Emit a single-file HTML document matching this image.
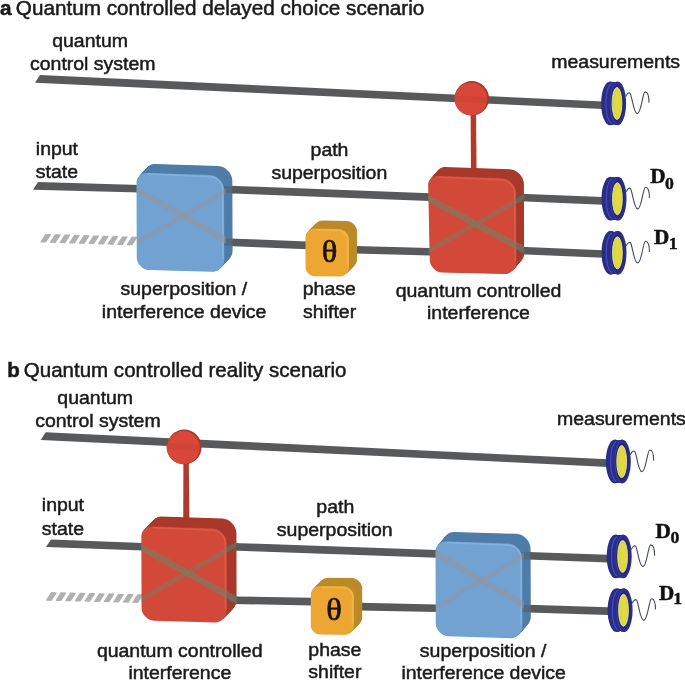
<!DOCTYPE html>
<html><head><meta charset="utf-8"><style>
html,body{margin:0;padding:0;background:#fff;}
body{width:685px;height:681px;overflow:hidden;}
svg{display:block;filter:blur(0.35px);}
</style></head><body>
<svg width="685" height="681" viewBox="0 0 685 681">
<text transform="translate(0 14.8) scale(1.041 1)" x="0" y="0" font-family="&quot;Liberation Sans&quot;, sans-serif" font-size="19.9" text-anchor="start" font-weight="normal" fill="#1a1a1a" stroke="#1a1a1a" stroke-width="0.5"><tspan font-weight="bold">a</tspan><tspan dx="-1.4"> Quantum controlled delayed choice scenario</tspan></text>
<text transform="translate(90.1 46.8) scale(1.015 1)" x="0" y="0" font-family="&quot;Liberation Sans&quot;, sans-serif" font-size="19.2" text-anchor="middle" font-weight="normal" fill="#1a1a1a" stroke="#1a1a1a" stroke-width="0.5">quantum</text>
<text transform="translate(92.75 69.8) scale(1.015 1)" x="0" y="0" font-family="&quot;Liberation Sans&quot;, sans-serif" font-size="19.2" text-anchor="middle" font-weight="normal" fill="#1a1a1a" stroke="#1a1a1a" stroke-width="0.5">control system</text>
<text transform="translate(615.65 67.7) scale(1.015 1)" x="0" y="0" font-family="&quot;Liberation Sans&quot;, sans-serif" font-size="19.2" text-anchor="middle" font-weight="normal" fill="#1a1a1a" stroke="#1a1a1a" stroke-width="0.5">measurements</text>
<text transform="translate(35.8 155) scale(1.015 1)" x="0" y="0" font-family="&quot;Liberation Sans&quot;, sans-serif" font-size="19.2" text-anchor="start" font-weight="normal" fill="#1a1a1a" stroke="#1a1a1a" stroke-width="0.5">input</text>
<text transform="translate(35.8 178.3) scale(1.015 1)" x="0" y="0" font-family="&quot;Liberation Sans&quot;, sans-serif" font-size="19.2" text-anchor="start" font-weight="normal" fill="#1a1a1a" stroke="#1a1a1a" stroke-width="0.5">state</text>
<text transform="translate(329.5 155.5) scale(1.015 1)" x="0" y="0" font-family="&quot;Liberation Sans&quot;, sans-serif" font-size="19.2" text-anchor="middle" font-weight="normal" fill="#1a1a1a" stroke="#1a1a1a" stroke-width="0.5">path</text>
<text transform="translate(329.3 178.6) scale(1.015 1)" x="0" y="0" font-family="&quot;Liberation Sans&quot;, sans-serif" font-size="19.2" text-anchor="middle" font-weight="normal" fill="#1a1a1a" stroke="#1a1a1a" stroke-width="0.5">superposition</text>
<text transform="translate(183.85 295.3) scale(1.015 1)" x="0" y="0" font-family="&quot;Liberation Sans&quot;, sans-serif" font-size="19.2" text-anchor="middle" font-weight="normal" fill="#1a1a1a" stroke="#1a1a1a" stroke-width="0.5">superposition /</text>
<text transform="translate(184.1 318.3) scale(1.015 1)" x="0" y="0" font-family="&quot;Liberation Sans&quot;, sans-serif" font-size="19.2" text-anchor="middle" font-weight="normal" fill="#1a1a1a" stroke="#1a1a1a" stroke-width="0.5">interference device</text>
<text transform="translate(329.3 295.3) scale(1.015 1)" x="0" y="0" font-family="&quot;Liberation Sans&quot;, sans-serif" font-size="19.2" text-anchor="middle" font-weight="normal" fill="#1a1a1a" stroke="#1a1a1a" stroke-width="0.5">phase</text>
<text transform="translate(329.6 318) scale(1.015 1)" x="0" y="0" font-family="&quot;Liberation Sans&quot;, sans-serif" font-size="19.2" text-anchor="middle" font-weight="normal" fill="#1a1a1a" stroke="#1a1a1a" stroke-width="0.5">shifter</text>
<text transform="translate(478.5 296.5) scale(1.015 1)" x="0" y="0" font-family="&quot;Liberation Sans&quot;, sans-serif" font-size="19.2" text-anchor="middle" font-weight="normal" fill="#1a1a1a" stroke="#1a1a1a" stroke-width="0.5">quantum controlled</text>
<text transform="translate(478.4 318.5) scale(1.015 1)" x="0" y="0" font-family="&quot;Liberation Sans&quot;, sans-serif" font-size="19.2" text-anchor="middle" font-weight="normal" fill="#1a1a1a" stroke="#1a1a1a" stroke-width="0.5">interference</text>
<polygon points="40.0,75.1 603.0,101.5 603.0,109.1 35.0,82.7" fill="#58595b"/>
<polygon points="38.0,182.1 140.0,185.0 140.0,192.6 33.0,189.7" fill="#58595b"/>
<polygon points="228.0,185.7 430.0,193.3 430.0,200.9 228.0,193.3" fill="#58595b"/>
<polygon points="520.0,193.7 603.0,197.1 603.0,204.7 520.0,201.3" fill="#58595b"/>
<polygon points="45.8,234.5 50.4,234.6 45.6,242.0 41.0,241.9" fill="#b0b0b0" stroke="#b0b0b0" stroke-width="1.2" stroke-linejoin="round"/>
<polygon points="55.4,234.8 60.0,234.9 55.2,242.3 50.6,242.2" fill="#b0b0b0" stroke="#b0b0b0" stroke-width="1.2" stroke-linejoin="round"/>
<polygon points="65.0,235.1 69.6,235.2 64.8,242.6 60.2,242.5" fill="#b0b0b0" stroke="#b0b0b0" stroke-width="1.2" stroke-linejoin="round"/>
<polygon points="74.6,235.4 79.2,235.5 74.4,242.9 69.8,242.8" fill="#b0b0b0" stroke="#b0b0b0" stroke-width="1.2" stroke-linejoin="round"/>
<polygon points="84.2,235.7 88.8,235.8 84.0,243.2 79.4,243.1" fill="#b0b0b0" stroke="#b0b0b0" stroke-width="1.2" stroke-linejoin="round"/>
<polygon points="93.8,236.0 98.4,236.1 93.6,243.5 89.0,243.4" fill="#b0b0b0" stroke="#b0b0b0" stroke-width="1.2" stroke-linejoin="round"/>
<polygon points="103.4,236.3 108.0,236.4 103.2,243.8 98.6,243.7" fill="#b0b0b0" stroke="#b0b0b0" stroke-width="1.2" stroke-linejoin="round"/>
<polygon points="113.0,236.6 117.6,236.7 112.8,244.1 108.2,244.0" fill="#b0b0b0" stroke="#b0b0b0" stroke-width="1.2" stroke-linejoin="round"/>
<polygon points="122.6,236.9 127.2,237.0 122.4,244.4 117.8,244.3" fill="#b0b0b0" stroke="#b0b0b0" stroke-width="1.2" stroke-linejoin="round"/>
<polygon points="132.2,237.2 136.8,237.3 132.0,244.7 127.4,244.6" fill="#b0b0b0" stroke="#b0b0b0" stroke-width="1.2" stroke-linejoin="round"/>
<polygon points="228.0,238.4 307.0,241.6 307.0,249.2 228.0,246.0" fill="#58595b"/>
<polygon points="355.0,246.0 430.0,248.0 430.0,255.6 355.0,253.6" fill="#58595b"/>
<polygon points="520.0,246.7 603.0,250.2 603.0,257.8 520.0,254.3" fill="#58595b"/>
<path d="M154.79,163.92 L218.31,165.95 C225.30,166.18 232.32,173.40 232.34,180.40 L232.56,251.00 C232.58,257.00 226.60,262.85 220.60,262.70 L157.10,261.10 C151.10,260.95 145.08,254.80 145.06,248.80 L144.83,173.60 C144.82,168.60 149.80,163.76 154.79,163.92 Z" fill="#4f7daa"/>
<path d="M154.28,164.48 L217.79,166.51 C224.78,166.74 231.80,173.96 231.82,180.96 L232.04,251.56 C232.06,257.56 226.08,263.41 220.09,263.26 L156.58,261.66 C150.58,261.51 144.56,255.36 144.54,249.36 L144.31,174.16 C144.30,169.16 149.28,164.32 154.28,164.48 Z" fill="#4f7daa"/>
<path d="M153.76,165.04 L217.27,167.08 C224.27,167.30 231.28,174.52 231.31,181.52 L231.53,252.13 C231.54,258.13 225.56,263.97 219.57,263.82 L156.06,262.23 C150.06,262.08 144.04,255.93 144.03,249.93 L143.79,174.72 C143.78,169.72 148.76,164.88 153.76,165.04 Z" fill="#4f7daa"/>
<path d="M153.24,165.61 L216.75,167.64 C223.75,167.86 230.77,175.09 230.79,182.09 L231.01,252.69 C231.03,258.69 225.05,264.54 219.05,264.39 L155.54,262.79 C149.54,262.64 143.53,256.49 143.51,250.49 L143.27,175.29 C143.26,170.29 148.24,165.45 153.24,165.61 Z" fill="#4f7daa"/>
<path d="M152.72,166.17 L216.23,168.20 C223.23,168.43 230.25,175.65 230.27,182.65 L230.49,253.25 C230.51,259.25 224.53,265.10 218.53,264.95 L155.02,263.35 C149.02,263.20 143.01,257.05 142.99,251.05 L142.76,175.85 C142.74,170.85 147.72,166.01 152.72,166.17 Z" fill="#4f7daa"/>
<path d="M152.20,166.73 L215.71,168.76 C222.71,168.99 229.73,176.21 229.75,183.21 L229.97,253.81 C229.99,259.81 224.01,265.66 218.01,265.51 L154.50,263.91 C148.50,263.76 142.49,257.61 142.47,251.61 L142.24,176.41 C142.22,171.41 147.20,166.57 152.20,166.73 Z" fill="#4f7daa"/>
<path d="M151.68,167.29 L215.19,169.33 C222.19,169.55 229.21,176.77 229.23,183.77 L229.45,254.38 C229.47,260.38 223.49,266.22 217.49,266.07 L153.98,264.48 C147.99,264.33 141.97,258.18 141.95,252.18 L141.72,176.97 C141.70,171.97 146.68,167.13 151.68,167.29 Z" fill="#4f7daa"/>
<path d="M151.16,167.86 L214.68,169.89 C221.67,170.11 228.69,177.34 228.71,184.34 L228.93,254.94 C228.95,260.94 222.97,266.79 216.97,266.64 L153.46,265.04 C147.47,264.89 141.45,258.74 141.43,252.74 L141.20,177.54 C141.18,172.54 146.17,167.70 151.16,167.86 Z" fill="#4f7daa"/>
<path d="M150.64,168.42 L214.16,170.45 C221.15,170.68 228.17,177.90 228.19,184.90 L228.41,255.50 C228.43,261.50 222.45,267.35 216.45,267.20 L152.95,265.60 C146.95,265.45 140.93,259.30 140.91,253.30 L140.68,178.10 C140.67,173.10 145.65,168.26 150.64,168.42 Z" fill="#4f7daa"/>
<path d="M150.13,168.98 L213.64,171.01 C220.63,171.24 227.65,178.46 227.67,185.46 L227.89,256.06 C227.91,262.06 221.93,267.91 215.94,267.76 L152.43,266.16 C146.43,266.01 140.41,259.86 140.39,253.86 L140.16,178.66 C140.15,173.66 145.13,168.82 150.13,168.98 Z" fill="#4f7daa"/>
<path d="M149.61,169.54 L213.12,171.58 C220.12,171.80 227.13,179.02 227.16,186.02 L227.38,256.63 C227.39,262.63 221.41,268.47 215.42,268.32 L151.91,266.73 C145.91,266.58 139.89,260.43 139.88,254.43 L139.64,179.22 C139.63,174.22 144.61,169.38 149.61,169.54 Z" fill="#4f7daa"/>
<path d="M149.09,170.11 L212.60,172.14 C219.60,172.36 226.62,179.59 226.64,186.59 L226.86,257.19 C226.88,263.19 220.90,269.04 214.90,268.89 L151.39,267.29 C145.39,267.14 139.38,260.99 139.36,254.99 L139.12,179.79 C139.11,174.79 144.09,169.95 149.09,170.11 Z" fill="#4f7daa"/>
<path d="M148.57,170.67 L212.08,172.70 C219.08,172.93 226.10,180.15 226.12,187.15 L226.34,257.75 C226.36,263.75 220.38,269.60 214.38,269.45 L150.87,267.85 C144.87,267.70 138.86,261.55 138.84,255.55 L138.61,180.35 C138.59,175.35 143.57,170.51 148.57,170.67 Z" fill="#4f7daa"/>
<path d="M148.05,171.23 L211.56,173.26 C218.56,173.49 225.58,180.71 225.60,187.71 L225.82,258.31 C225.84,264.31 219.86,270.16 213.86,270.01 L150.35,268.41 C144.35,268.26 138.34,262.11 138.32,256.11 L138.09,180.91 C138.07,175.91 143.05,171.07 148.05,171.23 Z" fill="#4f7daa"/>
<path d="M147.53,171.79 L211.04,173.83 C218.04,174.05 225.06,181.27 225.08,188.27 L225.30,258.88 C225.32,264.88 219.34,270.72 213.34,270.57 L149.83,268.98 C143.84,268.83 137.82,262.68 137.80,256.68 L137.57,181.47 C137.55,176.47 142.53,171.63 147.53,171.79 Z" fill="#4f7daa"/>
<path d="M147.01,172.36 L210.53,174.39 C217.52,174.61 224.54,181.84 224.56,188.84 L224.78,259.44 C224.80,265.44 218.82,271.29 212.82,271.14 L149.31,269.54 C143.32,269.39 137.30,263.24 137.28,257.24 L137.05,182.04 C137.03,177.04 142.02,172.20 147.01,172.36 Z" fill="#4f7daa"/>
<polygon points="220.0,185.7 234.0,186.2 234.0,193.4 220.0,192.9" fill="#58595b" opacity="0.55"/>
<polygon points="220.0,238.4 234.0,238.7 234.0,245.9 220.0,245.6" fill="#58595b" opacity="0.55"/>
<path d="M146.49,172.92 L210.01,174.95 C217.00,175.18 224.02,182.40 224.04,189.40 L224.26,260.00 C224.28,266.00 218.30,271.85 212.30,271.70 L148.80,270.10 C142.80,269.95 136.78,263.80 136.76,257.80 L136.53,182.60 C136.52,177.60 141.50,172.76 146.49,172.92 Z" fill="#71a2d1"/>
<path d="M148.50,173.90 L210.00,176.70 C216.35,176.70 222.70,183.05 222.70,189.40 L223.00,258.00" fill="none" stroke="#93c0e8" stroke-width="1.8" opacity="0.5" stroke-linecap="round"/>
<polygon points="137,185.95 226,236.45 226,243.95 137,193.45" fill="#98939b" opacity="0.55"/>
<polygon points="137,240.05 226,188.25 226,193.75 137,245.55" fill="#98939b" opacity="0.45"/>
<path d="M322.50,220.60 L347.00,220.89 C352.00,220.94 357.00,226.00 357.00,231.00 L357.00,259.60 C357.00,264.10 352.50,268.57 348.00,268.54 L322.50,268.36 C318.00,268.33 313.50,263.80 313.50,259.30 L313.50,229.50 C313.50,225.00 318.00,220.55 322.50,220.60 Z" fill="#bb8b2a"/>
<path d="M322.00,221.10 L346.50,221.39 C351.50,221.44 356.50,226.50 356.50,231.50 L356.50,260.10 C356.50,264.60 352.00,269.07 347.50,269.04 L322.00,268.86 C317.50,268.83 313.00,264.30 313.00,259.80 L313.00,230.00 C313.00,225.50 317.50,221.05 322.00,221.10 Z" fill="#bb8b2a"/>
<path d="M321.50,221.60 L346.00,221.89 C351.00,221.94 356.00,227.00 356.00,232.00 L356.00,260.60 C356.00,265.10 351.50,269.57 347.00,269.54 L321.50,269.36 C317.00,269.33 312.50,264.80 312.50,260.30 L312.50,230.50 C312.50,226.00 317.00,221.55 321.50,221.60 Z" fill="#bb8b2a"/>
<path d="M321.00,222.10 L345.50,222.39 C350.50,222.44 355.50,227.50 355.50,232.50 L355.50,261.10 C355.50,265.60 351.00,270.07 346.50,270.04 L321.00,269.86 C316.50,269.83 312.00,265.30 312.00,260.80 L312.00,231.00 C312.00,226.50 316.50,222.05 321.00,222.10 Z" fill="#bb8b2a"/>
<path d="M320.50,222.60 L345.00,222.89 C350.00,222.94 355.00,228.00 355.00,233.00 L355.00,261.60 C355.00,266.10 350.50,270.57 346.00,270.54 L320.50,270.36 C316.00,270.33 311.50,265.80 311.50,261.30 L311.50,231.50 C311.50,227.00 316.00,222.55 320.50,222.60 Z" fill="#bb8b2a"/>
<path d="M320.00,223.10 L344.50,223.39 C349.50,223.44 354.50,228.50 354.50,233.50 L354.50,262.10 C354.50,266.60 350.00,271.07 345.50,271.04 L320.00,270.86 C315.50,270.83 311.00,266.30 311.00,261.80 L311.00,232.00 C311.00,227.50 315.50,223.05 320.00,223.10 Z" fill="#bb8b2a"/>
<path d="M319.50,223.60 L344.00,223.89 C349.00,223.94 354.00,229.00 354.00,234.00 L354.00,262.60 C354.00,267.10 349.50,271.57 345.00,271.54 L319.50,271.36 C315.00,271.33 310.50,266.80 310.50,262.30 L310.50,232.50 C310.50,228.00 315.00,223.55 319.50,223.60 Z" fill="#bb8b2a"/>
<path d="M319.00,224.10 L343.50,224.39 C348.50,224.44 353.50,229.50 353.50,234.50 L353.50,263.10 C353.50,267.60 349.00,272.07 344.50,272.04 L319.00,271.86 C314.50,271.83 310.00,267.30 310.00,262.80 L310.00,233.00 C310.00,228.50 314.50,224.05 319.00,224.10 Z" fill="#bb8b2a"/>
<path d="M318.50,224.60 L343.00,224.89 C348.00,224.94 353.00,230.00 353.00,235.00 L353.00,263.60 C353.00,268.10 348.50,272.57 344.00,272.54 L318.50,272.36 C314.00,272.33 309.50,267.80 309.50,263.30 L309.50,233.50 C309.50,229.00 314.00,224.55 318.50,224.60 Z" fill="#bb8b2a"/>
<path d="M318.00,225.10 L342.50,225.39 C347.50,225.44 352.50,230.50 352.50,235.50 L352.50,264.10 C352.50,268.60 348.00,273.07 343.50,273.04 L318.00,272.86 C313.50,272.83 309.00,268.30 309.00,263.80 L309.00,234.00 C309.00,229.50 313.50,225.05 318.00,225.10 Z" fill="#bb8b2a"/>
<path d="M317.50,225.60 L342.00,225.89 C347.00,225.94 352.00,231.00 352.00,236.00 L352.00,264.60 C352.00,269.10 347.50,273.57 343.00,273.54 L317.50,273.36 C313.00,273.33 308.50,268.80 308.50,264.30 L308.50,234.50 C308.50,230.00 313.00,225.55 317.50,225.60 Z" fill="#bb8b2a"/>
<path d="M317.00,226.10 L341.50,226.39 C346.50,226.44 351.50,231.50 351.50,236.50 L351.50,265.10 C351.50,269.60 347.00,274.07 342.50,274.04 L317.00,273.86 C312.50,273.83 308.00,269.30 308.00,264.80 L308.00,235.00 C308.00,230.50 312.50,226.05 317.00,226.10 Z" fill="#bb8b2a"/>
<path d="M316.50,226.60 L341.00,226.89 C346.00,226.94 351.00,232.00 351.00,237.00 L351.00,265.60 C351.00,270.10 346.50,274.57 342.00,274.54 L316.50,274.36 C312.00,274.33 307.50,269.80 307.50,265.30 L307.50,235.50 C307.50,231.00 312.00,226.55 316.50,226.60 Z" fill="#bb8b2a"/>
<path d="M316.00,227.10 L340.50,227.39 C345.50,227.44 350.50,232.50 350.50,237.50 L350.50,266.10 C350.50,270.60 346.00,275.07 341.50,275.04 L316.00,274.86 C311.50,274.83 307.00,270.30 307.00,265.80 L307.00,236.00 C307.00,231.50 311.50,227.05 316.00,227.10 Z" fill="#bb8b2a"/>
<path d="M315.50,227.60 L340.00,227.89 C345.00,227.94 350.00,233.00 350.00,238.00 L350.00,266.60 C350.00,271.10 345.50,275.57 341.00,275.54 L315.50,275.36 C311.00,275.33 306.50,270.80 306.50,266.30 L306.50,236.50 C306.50,232.00 311.00,227.55 315.50,227.60 Z" fill="#bb8b2a"/>
<path d="M315.00,228.10 L339.50,228.39 C344.50,228.44 349.50,233.50 349.50,238.50 L349.50,267.10 C349.50,271.60 345.00,276.07 340.50,276.04 L315.00,275.86 C310.50,275.83 306.00,271.30 306.00,266.80 L306.00,237.00 C306.00,232.50 310.50,228.05 315.00,228.10 Z" fill="#bb8b2a"/>
<path d="M314.50,228.60 L339.00,228.89 C344.00,228.94 349.00,234.00 349.00,239.00 L349.00,267.60 C349.00,272.10 344.50,276.57 340.00,276.54 L314.50,276.36 C310.00,276.33 305.50,271.80 305.50,267.30 L305.50,237.50 C305.50,233.00 310.00,228.55 314.50,228.60 Z" fill="#eca631"/>
<path d="M316.50,229.80 L339.00,230.30 C343.35,230.30 347.70,234.65 347.70,239.00 L347.70,265.60" fill="none" stroke="#f7c35a" stroke-width="1.8" opacity="0.5" stroke-linecap="round"/>
<text transform="translate(329.6 261.8) scale(1.0 1)" x="0" y="0" font-family="&quot;Liberation Serif&quot;, serif" font-size="32.5" text-anchor="middle" font-weight="normal" fill="#1a1208" stroke="#1a1208" stroke-width="0.7">&#952;</text>
<polygon points="470.6,110 476,110 476.6,176 471,176" fill="#b1392c"/>
<path d="M444.80,167.09 L509.81,169.15 C516.80,169.38 523.83,176.60 523.86,183.60 L524.15,253.40 C524.17,259.40 518.20,265.25 512.20,265.09 L449.80,263.51 C443.80,263.35 437.68,257.20 437.55,251.20 L435.99,175.80 C435.89,171.30 440.30,166.94 444.80,167.09 Z" fill="#a9392b"/>
<path d="M444.31,167.65 L509.32,169.72 C516.32,169.94 523.34,177.16 523.37,184.16 L523.66,253.96 C523.69,259.96 517.71,265.81 511.72,265.66 L449.31,264.07 C443.31,263.92 437.19,257.76 437.06,251.77 L435.50,176.36 C435.41,171.86 439.81,167.51 444.31,167.65 Z" fill="#a9392b"/>
<path d="M443.82,168.21 L508.83,170.28 C515.83,170.50 522.85,177.72 522.88,184.72 L523.17,254.53 C523.20,260.53 517.23,266.37 511.23,266.22 L448.82,264.63 C442.82,264.48 436.70,258.33 436.58,252.33 L435.01,176.92 C434.92,172.42 439.32,168.07 443.82,168.21 Z" fill="#a9392b"/>
<path d="M443.33,168.77 L508.34,170.84 C515.34,171.06 522.37,178.29 522.40,185.29 L522.69,255.09 C522.71,261.09 516.74,266.93 510.74,266.78 L448.33,265.19 C442.34,265.04 436.21,258.89 436.09,252.89 L434.52,177.49 C434.43,172.99 438.84,168.63 443.33,168.77 Z" fill="#a9392b"/>
<path d="M442.85,169.34 L507.86,171.40 C514.85,171.63 521.88,178.85 521.91,185.85 L522.20,255.65 C522.22,261.65 516.25,267.50 510.25,267.34 L447.85,265.76 C441.85,265.60 435.73,259.45 435.60,253.45 L434.04,178.05 C433.94,173.55 438.35,169.19 442.85,169.34 Z" fill="#a9392b"/>
<path d="M442.36,169.90 L507.37,171.97 C514.37,172.19 521.39,179.41 521.42,186.41 L521.71,256.21 C521.74,262.21 515.76,268.06 509.77,267.91 L447.36,266.32 C441.36,266.17 435.24,260.01 435.11,254.02 L433.55,178.61 C433.46,174.11 437.86,169.76 442.36,169.90 Z" fill="#a9392b"/>
<path d="M441.87,170.46 L506.88,172.53 C513.88,172.75 520.90,179.97 520.93,186.97 L521.22,256.78 C521.25,262.78 515.28,268.62 509.28,268.47 L446.87,266.88 C440.87,266.73 434.75,260.58 434.63,254.58 L433.06,179.17 C432.97,174.67 437.37,170.32 441.87,170.46 Z" fill="#a9392b"/>
<path d="M441.38,171.02 L506.39,173.09 C513.39,173.31 520.42,180.54 520.45,187.54 L520.74,257.34 C520.76,263.34 514.79,269.18 508.79,269.03 L446.38,267.44 C440.39,267.29 434.26,261.14 434.14,255.14 L432.57,179.74 C432.48,175.24 436.89,170.88 441.38,171.02 Z" fill="#a9392b"/>
<path d="M440.90,171.59 L505.91,173.65 C512.90,173.88 519.93,181.10 519.96,188.10 L520.25,257.90 C520.27,263.90 514.30,269.75 508.30,269.59 L445.90,268.01 C439.90,267.85 433.78,261.70 433.65,255.70 L432.09,180.30 C431.99,175.80 436.40,171.44 440.90,171.59 Z" fill="#a9392b"/>
<path d="M440.41,172.15 L505.42,174.22 C512.42,174.44 519.44,181.66 519.47,188.66 L519.76,258.46 C519.79,264.46 513.81,270.31 507.82,270.16 L445.41,268.57 C439.41,268.42 433.29,262.26 433.16,256.27 L431.60,180.86 C431.51,176.36 435.91,172.01 440.41,172.15 Z" fill="#a9392b"/>
<path d="M439.92,172.71 L504.93,174.78 C511.93,175.00 518.95,182.22 518.98,189.22 L519.27,259.03 C519.30,265.03 513.33,270.87 507.33,270.72 L444.92,269.13 C438.92,268.98 432.80,262.83 432.68,256.83 L431.11,181.42 C431.02,176.92 435.42,172.57 439.92,172.71 Z" fill="#a9392b"/>
<path d="M439.43,173.27 L504.44,175.34 C511.44,175.56 518.47,182.79 518.50,189.79 L518.79,259.59 C518.81,265.59 512.84,271.43 506.84,271.28 L444.43,269.69 C438.44,269.54 432.31,263.39 432.19,257.39 L430.62,181.99 C430.53,177.49 434.94,173.13 439.43,173.27 Z" fill="#a9392b"/>
<path d="M438.95,173.84 L503.96,175.90 C510.95,176.13 517.98,183.35 518.01,190.35 L518.30,260.15 C518.32,266.15 512.35,272.00 506.35,271.84 L443.95,270.26 C437.95,270.10 431.83,263.95 431.70,257.95 L430.14,182.55 C430.04,178.05 434.45,173.69 438.95,173.84 Z" fill="#a9392b"/>
<path d="M438.46,174.40 L503.47,176.47 C510.47,176.69 517.49,183.91 517.52,190.91 L517.81,260.71 C517.84,266.71 511.86,272.56 505.87,272.41 L443.46,270.82 C437.46,270.67 431.34,264.51 431.21,258.52 L429.65,183.11 C429.56,178.61 433.96,174.26 438.46,174.40 Z" fill="#a9392b"/>
<path d="M437.97,174.96 L502.98,177.03 C509.98,177.25 517.00,184.47 517.03,191.47 L517.32,261.28 C517.35,267.28 511.38,273.12 505.38,272.97 L442.97,271.38 C436.97,271.23 430.85,265.08 430.73,259.08 L429.16,183.67 C429.07,179.17 433.47,174.82 437.97,174.96 Z" fill="#a9392b"/>
<path d="M437.48,175.52 L502.49,177.59 C509.49,177.81 516.52,185.04 516.55,192.04 L516.84,261.84 C516.86,267.84 510.89,273.68 504.89,273.53 L442.48,271.94 C436.49,271.79 430.36,265.64 430.24,259.64 L428.67,184.24 C428.58,179.74 432.99,175.38 437.48,175.52 Z" fill="#a9392b"/>
<polygon points="512.0,193.6 526.0,193.9 526.0,201.1 512.0,200.8" fill="#58595b" opacity="0.55"/>
<polygon points="512.0,246.6 526.0,246.9 526.0,254.1 512.0,253.8" fill="#58595b" opacity="0.55"/>
<path d="M437.00,176.09 L502.01,178.15 C509.00,178.38 516.03,185.60 516.06,192.60 L516.35,262.40 C516.37,268.40 510.40,274.25 504.40,274.09 L442.00,272.51 C436.00,272.35 429.88,266.20 429.75,260.20 L428.19,184.80 C428.09,180.30 432.50,175.94 437.00,176.09 Z" fill="#d2493a"/>
<path d="M439.00,177.10 L502.00,179.90 C508.35,179.90 514.70,186.25 514.70,192.60 L515.10,260.40" fill="none" stroke="#e56a55" stroke-width="1.8" opacity="0.5" stroke-linecap="round"/>
<polygon points="428,194.85 524,245.85 524,253.35 428,202.35" fill="#6a866a" opacity="0.55"/>
<polygon points="428,248.25 524,194.25 524,199.75 428,253.75" fill="#6a866a" opacity="0.45"/>
<circle cx="471.79999999999995" cy="98.30000000000001" r="17.2" fill="#a3362b"/>
<circle cx="470.9" cy="98.9" r="16.3" fill="#d9473a"/>
<polygon points="454,95.5 489,97.3 489,103.3 454,101.5" fill="#b0402f" opacity="0.25"/>
<g>
<ellipse cx="610.10" cy="103.35" rx="9.00" ry="21.95" fill="#2b2d8a"/>
<ellipse cx="611.04" cy="103.35" rx="8.94" ry="21.61" fill="#2b2d8a"/>
<ellipse cx="611.98" cy="103.35" rx="8.88" ry="21.31" fill="#2b2d8a"/>
<ellipse cx="612.91" cy="103.35" rx="8.81" ry="21.12" fill="#2b2d8a"/>
<ellipse cx="613.85" cy="103.35" rx="8.75" ry="21.05" fill="#2b2d8a"/>
<ellipse cx="614.79" cy="103.35" rx="8.69" ry="21.12" fill="#2b2d8a"/>
<ellipse cx="615.73" cy="103.35" rx="8.62" ry="21.31" fill="#2b2d8a"/>
<ellipse cx="616.66" cy="103.35" rx="8.56" ry="21.61" fill="#2b2d8a"/>
<ellipse cx="617.60" cy="103.35" rx="8.50" ry="21.95" fill="#2b2d8a"/>
<path d="M611.6,83.3 C604.1,88.1 604.1,118.6 611.6,123.4" fill="none" stroke="#4954b0" stroke-width="1.1" opacity="0.9"/>
<path d="M615.6,82.9 C608.6,88.1 608.6,118.6 615.6,123.8" fill="none" stroke="#3b45a4" stroke-width="1.0" opacity="0.9"/>
<ellipse cx="617.10" cy="103.35" rx="6.4" ry="17.95" fill="#20246f"/>
<ellipse cx="617.00" cy="103.45" rx="4.9" ry="16.05" fill="#dcd640" stroke="#e9e79a" stroke-width="0.9"/>
<ellipse cx="617.30" cy="103.45" rx="2.6" ry="12.25" fill="#e2dc48" opacity="0.6"/>
<path d="M625.70,96.60 C626.90,93.60 628.70,92.30 629.90,93.10 C632.10,95.10 633.30,113.60 637.30,113.60 C641.30,113.60 642.60,91.90 645.10,91.90 C647.70,91.90 649.00,95.60 649.00,102.70" fill="none" stroke="#43465f" stroke-width="1.1"/>
</g>
<g>
<ellipse cx="610.50" cy="198.65" rx="9.00" ry="21.95" fill="#2b2d8a"/>
<ellipse cx="611.44" cy="198.65" rx="8.94" ry="21.61" fill="#2b2d8a"/>
<ellipse cx="612.38" cy="198.65" rx="8.88" ry="21.31" fill="#2b2d8a"/>
<ellipse cx="613.31" cy="198.65" rx="8.81" ry="21.12" fill="#2b2d8a"/>
<ellipse cx="614.25" cy="198.65" rx="8.75" ry="21.05" fill="#2b2d8a"/>
<ellipse cx="615.19" cy="198.65" rx="8.69" ry="21.12" fill="#2b2d8a"/>
<ellipse cx="616.12" cy="198.65" rx="8.62" ry="21.31" fill="#2b2d8a"/>
<ellipse cx="617.06" cy="198.65" rx="8.56" ry="21.61" fill="#2b2d8a"/>
<ellipse cx="618.00" cy="198.65" rx="8.50" ry="21.95" fill="#2b2d8a"/>
<path d="M612.0,178.6 C604.5,183.4 604.5,213.9 612.0,218.7" fill="none" stroke="#4954b0" stroke-width="1.1" opacity="0.9"/>
<path d="M616.0,178.2 C609.0,183.4 609.0,213.9 616.0,219.1" fill="none" stroke="#3b45a4" stroke-width="1.0" opacity="0.9"/>
<ellipse cx="617.50" cy="198.65" rx="6.4" ry="17.95" fill="#20246f"/>
<ellipse cx="617.40" cy="198.75" rx="4.9" ry="16.05" fill="#dcd640" stroke="#e9e79a" stroke-width="0.9"/>
<ellipse cx="617.70" cy="198.75" rx="2.6" ry="12.25" fill="#e2dc48" opacity="0.6"/>
<path d="M626.10,191.90 C627.30,188.90 629.10,187.60 630.30,188.40 C632.50,190.40 633.70,208.90 637.70,208.90 C641.70,208.90 643.00,187.20 645.50,187.20 C648.10,187.20 649.40,190.90 649.40,198.00" fill="none" stroke="#43465f" stroke-width="1.1"/>
</g>
<g>
<ellipse cx="610.50" cy="252.75" rx="9.00" ry="21.95" fill="#2b2d8a"/>
<ellipse cx="611.44" cy="252.75" rx="8.94" ry="21.61" fill="#2b2d8a"/>
<ellipse cx="612.38" cy="252.75" rx="8.88" ry="21.31" fill="#2b2d8a"/>
<ellipse cx="613.31" cy="252.75" rx="8.81" ry="21.12" fill="#2b2d8a"/>
<ellipse cx="614.25" cy="252.75" rx="8.75" ry="21.05" fill="#2b2d8a"/>
<ellipse cx="615.19" cy="252.75" rx="8.69" ry="21.12" fill="#2b2d8a"/>
<ellipse cx="616.12" cy="252.75" rx="8.62" ry="21.31" fill="#2b2d8a"/>
<ellipse cx="617.06" cy="252.75" rx="8.56" ry="21.61" fill="#2b2d8a"/>
<ellipse cx="618.00" cy="252.75" rx="8.50" ry="21.95" fill="#2b2d8a"/>
<path d="M612.0,232.7 C604.5,237.5 604.5,268.0 612.0,272.8" fill="none" stroke="#4954b0" stroke-width="1.1" opacity="0.9"/>
<path d="M616.0,232.3 C609.0,237.5 609.0,268.0 616.0,273.2" fill="none" stroke="#3b45a4" stroke-width="1.0" opacity="0.9"/>
<ellipse cx="617.50" cy="252.75" rx="6.4" ry="17.95" fill="#20246f"/>
<ellipse cx="617.40" cy="252.85" rx="4.9" ry="16.05" fill="#dcd640" stroke="#e9e79a" stroke-width="0.9"/>
<ellipse cx="617.70" cy="252.85" rx="2.6" ry="12.25" fill="#e2dc48" opacity="0.6"/>
<path d="M626.10,246.00 C627.30,243.00 629.10,241.70 630.30,242.50 C632.50,244.50 633.70,263.00 637.70,263.00 C641.70,263.00 643.00,241.30 645.50,241.30 C648.10,241.30 649.40,245.00 649.40,252.10" fill="none" stroke="#43465f" stroke-width="1.1"/>
</g>
<text transform="translate(650.3 182.7) scale(1.06 1)" x="0" y="0" font-family="&quot;Liberation Serif&quot;, serif" font-size="20" text-anchor="start" font-weight="bold" fill="#111" stroke="#111" stroke-width="0.5">D</text>
<text transform="translate(664.9 188.6) scale(1.04 1)" x="0" y="0" font-family="&quot;Liberation Serif&quot;, serif" font-size="17" text-anchor="start" font-weight="bold" fill="#111" stroke="#111" stroke-width="0.4">0</text>
<text transform="translate(654.0 244.2) scale(1.06 1)" x="0" y="0" font-family="&quot;Liberation Serif&quot;, serif" font-size="20" text-anchor="start" font-weight="bold" fill="#111" stroke="#111" stroke-width="0.5">D</text>
<text transform="translate(668.8 249.2) scale(1.04 1)" x="0" y="0" font-family="&quot;Liberation Serif&quot;, serif" font-size="17" text-anchor="start" font-weight="bold" fill="#111" stroke="#111" stroke-width="0.4">1</text>
<text transform="translate(7.2 376.6) scale(1.037 1)" x="0" y="0" font-family="&quot;Liberation Sans&quot;, sans-serif" font-size="19.8" text-anchor="start" font-weight="normal" fill="#1a1a1a" stroke="#1a1a1a" stroke-width="0.5"><tspan font-weight="bold">b</tspan><tspan dx="-1.6"> Quantum controlled reality scenario</tspan></text>
<text transform="translate(95.2 403.6) scale(1.015 1)" x="0" y="0" font-family="&quot;Liberation Sans&quot;, sans-serif" font-size="19.2" text-anchor="middle" font-weight="normal" fill="#1a1a1a" stroke="#1a1a1a" stroke-width="0.5">quantum</text>
<text transform="translate(97.9 426.5) scale(1.015 1)" x="0" y="0" font-family="&quot;Liberation Sans&quot;, sans-serif" font-size="19.2" text-anchor="middle" font-weight="normal" fill="#1a1a1a" stroke="#1a1a1a" stroke-width="0.5">control system</text>
<text transform="translate(557 424.5) scale(1.015 1)" x="0" y="0" font-family="&quot;Liberation Sans&quot;, sans-serif" font-size="19.2" text-anchor="start" font-weight="normal" fill="#1a1a1a" stroke="#1a1a1a" stroke-width="0.5">measurements</text>
<text transform="translate(41.8 510.9) scale(1.015 1)" x="0" y="0" font-family="&quot;Liberation Sans&quot;, sans-serif" font-size="19.2" text-anchor="start" font-weight="normal" fill="#1a1a1a" stroke="#1a1a1a" stroke-width="0.5">input</text>
<text transform="translate(41.8 534.6) scale(1.015 1)" x="0" y="0" font-family="&quot;Liberation Sans&quot;, sans-serif" font-size="19.2" text-anchor="start" font-weight="normal" fill="#1a1a1a" stroke="#1a1a1a" stroke-width="0.5">state</text>
<text transform="translate(335.3 513.4) scale(1.015 1)" x="0" y="0" font-family="&quot;Liberation Sans&quot;, sans-serif" font-size="19.2" text-anchor="middle" font-weight="normal" fill="#1a1a1a" stroke="#1a1a1a" stroke-width="0.5">path</text>
<text transform="translate(334.75 535.8) scale(1.015 1)" x="0" y="0" font-family="&quot;Liberation Sans&quot;, sans-serif" font-size="19.2" text-anchor="middle" font-weight="normal" fill="#1a1a1a" stroke="#1a1a1a" stroke-width="0.5">superposition</text>
<text transform="translate(179.7 657) scale(1.015 1)" x="0" y="0" font-family="&quot;Liberation Sans&quot;, sans-serif" font-size="19.2" text-anchor="middle" font-weight="normal" fill="#1a1a1a" stroke="#1a1a1a" stroke-width="0.5">quantum controlled</text>
<text transform="translate(179.85 679.2) scale(1.015 1)" x="0" y="0" font-family="&quot;Liberation Sans&quot;, sans-serif" font-size="19.2" text-anchor="middle" font-weight="normal" fill="#1a1a1a" stroke="#1a1a1a" stroke-width="0.5">interference</text>
<text transform="translate(334.85 655.8) scale(1.015 1)" x="0" y="0" font-family="&quot;Liberation Sans&quot;, sans-serif" font-size="19.2" text-anchor="middle" font-weight="normal" fill="#1a1a1a" stroke="#1a1a1a" stroke-width="0.5">phase</text>
<text transform="translate(334.85 678.4) scale(1.015 1)" x="0" y="0" font-family="&quot;Liberation Sans&quot;, sans-serif" font-size="19.2" text-anchor="middle" font-weight="normal" fill="#1a1a1a" stroke="#1a1a1a" stroke-width="0.5">shifter</text>
<text transform="translate(483.2 656.8) scale(1.015 1)" x="0" y="0" font-family="&quot;Liberation Sans&quot;, sans-serif" font-size="19.2" text-anchor="middle" font-weight="normal" fill="#1a1a1a" stroke="#1a1a1a" stroke-width="0.5">superposition /</text>
<text transform="translate(483.65 678.6) scale(1.015 1)" x="0" y="0" font-family="&quot;Liberation Sans&quot;, sans-serif" font-size="19.2" text-anchor="middle" font-weight="normal" fill="#1a1a1a" stroke="#1a1a1a" stroke-width="0.5">interference device</text>
<polygon points="45.7,432.3 608.0,459.3 608.0,466.9 40.7,439.9" fill="#58595b"/>
<polygon points="51.0,539.5 143.0,542.9 143.0,550.5 46.0,547.1" fill="#58595b"/>
<polygon points="232.0,542.9 437.0,550.1 437.0,557.7 232.0,550.5" fill="#58595b"/>
<polygon points="528.0,552.0 608.0,554.8 608.0,562.4 528.0,559.6" fill="#58595b"/>
<polygon points="51.5,592.7 56.1,592.8 51.3,600.2 46.7,600.1" fill="#b0b0b0" stroke="#b0b0b0" stroke-width="1.2" stroke-linejoin="round"/>
<polygon points="61.1,592.9 65.7,593.0 60.9,600.4 56.3,600.3" fill="#b0b0b0" stroke="#b0b0b0" stroke-width="1.2" stroke-linejoin="round"/>
<polygon points="70.7,593.2 75.3,593.3 70.5,600.7 65.9,600.6" fill="#b0b0b0" stroke="#b0b0b0" stroke-width="1.2" stroke-linejoin="round"/>
<polygon points="80.3,593.4 84.9,593.5 80.1,600.9 75.5,600.8" fill="#b0b0b0" stroke="#b0b0b0" stroke-width="1.2" stroke-linejoin="round"/>
<polygon points="89.9,593.6 94.5,593.7 89.7,601.1 85.1,601.0" fill="#b0b0b0" stroke="#b0b0b0" stroke-width="1.2" stroke-linejoin="round"/>
<polygon points="99.5,593.9 104.1,594.0 99.3,601.4 94.7,601.3" fill="#b0b0b0" stroke="#b0b0b0" stroke-width="1.2" stroke-linejoin="round"/>
<polygon points="109.1,594.1 113.7,594.2 108.9,601.6 104.3,601.5" fill="#b0b0b0" stroke="#b0b0b0" stroke-width="1.2" stroke-linejoin="round"/>
<polygon points="118.7,594.3 123.3,594.5 118.5,601.9 113.9,601.7" fill="#b0b0b0" stroke="#b0b0b0" stroke-width="1.2" stroke-linejoin="round"/>
<polygon points="128.3,594.6 132.9,594.7 128.1,602.1 123.5,602.0" fill="#b0b0b0" stroke="#b0b0b0" stroke-width="1.2" stroke-linejoin="round"/>
<polygon points="137.9,594.8 142.5,594.9 137.7,602.3 133.1,602.2" fill="#b0b0b0" stroke="#b0b0b0" stroke-width="1.2" stroke-linejoin="round"/>
<polygon points="232.0,596.4 312.0,597.8 312.0,605.4 232.0,604.0" fill="#58595b"/>
<polygon points="360.0,602.8 437.0,604.5 437.0,612.1 360.0,610.4" fill="#58595b"/>
<polygon points="528.0,604.8 608.0,607.3 608.0,614.9 528.0,612.4" fill="#58595b"/>
<polygon points="183.4,462 188.8,462 189.4,527 183.2,527" fill="#b1392c"/>
<path d="M161.10,516.59 L222.41,518.39 C229.40,518.59 236.41,525.80 236.43,532.80 L236.57,600.80 C236.59,606.80 230.60,612.62 224.61,612.45 L163.39,610.65 C157.40,610.48 151.38,604.30 151.36,598.30 L151.13,526.30 C151.12,521.30 156.10,516.45 161.10,516.59 Z" fill="#a9392b"/>
<path d="M160.48,517.22 L221.79,519.01 C228.79,519.22 235.80,526.42 235.82,533.42 L235.96,601.43 C235.97,607.43 229.99,613.25 223.99,613.07 L162.78,611.28 C156.78,611.10 150.77,604.93 150.75,598.93 L150.52,526.92 C150.50,521.92 155.49,517.07 160.48,517.22 Z" fill="#a9392b"/>
<path d="M159.87,517.84 L221.18,519.64 C228.18,519.84 235.19,527.05 235.20,534.05 L235.35,602.05 C235.36,608.05 229.38,613.87 223.38,613.70 L162.17,611.90 C156.17,611.73 150.16,605.55 150.14,599.55 L149.91,527.55 C149.89,522.55 154.87,517.70 159.87,517.84 Z" fill="#a9392b"/>
<path d="M159.26,518.47 L220.57,520.26 C227.57,520.47 234.58,527.67 234.59,534.67 L234.74,602.68 C234.75,608.68 228.77,614.50 222.77,614.32 L161.56,612.53 C155.56,612.35 149.54,606.18 149.52,600.18 L149.29,528.17 C149.28,523.17 154.26,518.32 159.26,518.47 Z" fill="#a9392b"/>
<path d="M158.65,519.09 L219.96,520.89 C226.95,521.09 233.96,528.30 233.98,535.30 L234.12,603.30 C234.14,609.30 228.15,615.12 222.16,614.95 L160.94,613.15 C154.95,612.98 148.93,606.80 148.91,600.80 L148.68,528.80 C148.67,523.80 153.65,518.95 158.65,519.09 Z" fill="#a9392b"/>
<path d="M158.03,519.72 L219.34,521.51 C226.34,521.72 233.35,528.92 233.37,535.92 L233.51,603.93 C233.52,609.93 227.54,615.75 221.54,615.57 L160.33,613.78 C154.33,613.60 148.32,607.43 148.30,601.43 L148.07,529.42 C148.05,524.42 153.04,519.57 158.03,519.72 Z" fill="#a9392b"/>
<path d="M157.42,520.34 L218.73,522.14 C225.73,522.34 232.74,529.55 232.75,536.55 L232.90,604.55 C232.91,610.55 226.93,616.37 220.93,616.20 L159.72,614.40 C153.72,614.23 147.71,608.05 147.69,602.05 L147.46,530.05 C147.44,525.05 152.42,520.20 157.42,520.34 Z" fill="#a9392b"/>
<path d="M156.81,520.97 L218.12,522.76 C225.12,522.97 232.13,530.17 232.14,537.17 L232.29,605.18 C232.30,611.18 226.32,617.00 220.32,616.82 L159.11,615.03 C153.11,614.85 147.09,608.68 147.07,602.68 L146.84,530.67 C146.83,525.67 151.81,520.82 156.81,520.97 Z" fill="#a9392b"/>
<path d="M156.20,521.59 L217.51,523.39 C224.50,523.59 231.51,530.80 231.53,537.80 L231.67,605.80 C231.69,611.80 225.70,617.62 219.71,617.45 L158.49,615.65 C152.50,615.48 146.48,609.30 146.46,603.30 L146.23,531.30 C146.22,526.30 151.20,521.45 156.20,521.59 Z" fill="#a9392b"/>
<path d="M155.58,522.22 L216.89,524.01 C223.89,524.22 230.90,531.42 230.92,538.42 L231.06,606.43 C231.07,612.43 225.09,618.25 219.09,618.07 L157.88,616.28 C151.88,616.10 145.87,609.93 145.85,603.93 L145.62,531.92 C145.60,526.92 150.59,522.07 155.58,522.22 Z" fill="#a9392b"/>
<path d="M154.97,522.84 L216.28,524.64 C223.28,524.84 230.29,532.05 230.30,539.05 L230.45,607.05 C230.46,613.05 224.48,618.87 218.48,618.70 L157.27,616.90 C151.27,616.73 145.26,610.55 145.24,604.55 L145.01,532.55 C144.99,527.55 149.97,522.70 154.97,522.84 Z" fill="#a9392b"/>
<path d="M154.36,523.47 L215.67,525.26 C222.67,525.47 229.68,532.67 229.69,539.67 L229.84,607.68 C229.85,613.68 223.87,619.50 217.87,619.32 L156.66,617.53 C150.66,617.35 144.64,611.18 144.62,605.18 L144.39,533.17 C144.38,528.17 149.36,523.32 154.36,523.47 Z" fill="#a9392b"/>
<path d="M153.75,524.09 L215.06,525.89 C222.05,526.09 229.06,533.30 229.08,540.30 L229.22,608.30 C229.24,614.30 223.25,620.12 217.26,619.95 L156.04,618.15 C150.05,617.98 144.03,611.80 144.01,605.80 L143.78,533.80 C143.77,528.80 148.75,523.95 153.75,524.09 Z" fill="#a9392b"/>
<path d="M153.13,524.72 L214.44,526.51 C221.44,526.72 228.45,533.92 228.47,540.92 L228.61,608.93 C228.62,614.93 222.64,620.75 216.64,620.57 L155.43,618.78 C149.43,618.60 143.42,612.43 143.40,606.43 L143.17,534.42 C143.15,529.42 148.14,524.57 153.13,524.72 Z" fill="#a9392b"/>
<path d="M152.52,525.34 L213.83,527.14 C220.83,527.34 227.84,534.55 227.85,541.55 L228.00,609.55 C228.01,615.55 222.03,621.37 216.03,621.20 L154.82,619.40 C148.82,619.23 142.81,613.05 142.79,607.05 L142.56,535.05 C142.54,530.05 147.52,525.20 152.52,525.34 Z" fill="#a9392b"/>
<path d="M151.91,525.97 L213.22,527.76 C220.22,527.97 227.23,535.17 227.24,542.17 L227.39,610.18 C227.40,616.18 221.42,622.00 215.42,621.82 L154.21,620.03 C148.21,619.85 142.19,613.68 142.17,607.68 L141.94,535.67 C141.93,530.67 146.91,525.82 151.91,525.97 Z" fill="#a9392b"/>
<polygon points="222.0,542.9 238.0,543.1 238.0,550.3 222.0,550.1" fill="#58595b" opacity="0.55"/>
<polygon points="222.0,596.4 238.0,596.6 238.0,603.8 222.0,603.6" fill="#58595b" opacity="0.55"/>
<path d="M151.30,526.59 L212.61,528.39 C219.60,528.59 226.61,535.80 226.63,542.80 L226.77,610.80 C226.79,616.80 220.80,622.62 214.81,622.45 L153.59,620.65 C147.60,620.48 141.58,614.30 141.56,608.30 L141.33,536.30 C141.32,531.30 146.30,526.45 151.30,526.59 Z" fill="#d2493a"/>
<path d="M153.30,527.60 L212.60,530.10 C218.95,530.10 225.30,536.45 225.30,542.80 L225.50,608.80" fill="none" stroke="#e56a55" stroke-width="1.8" opacity="0.5" stroke-linecap="round"/>
<polygon points="141.3,543.75 236.5,596.25 236.5,603.75 141.3,551.25" fill="#6a866a" opacity="0.55"/>
<polygon points="141.3,596.75 236.5,541.75 236.5,547.25 141.3,602.25" fill="#6a866a" opacity="0.45"/>
<circle cx="184.20000000000002" cy="447.0" r="17.4" fill="#a3362b"/>
<circle cx="183.3" cy="447.6" r="16.5" fill="#d9473a"/>
<polygon points="166,443.2 201,444.8 201,450.8 166,449.2" fill="#b0402f" opacity="0.25"/>
<path d="M328.00,577.70 L352.20,577.98 C357.20,578.04 362.20,583.10 362.20,588.10 L362.20,617.60 C362.20,622.10 357.70,626.57 353.20,626.54 L328.00,626.36 C323.50,626.33 319.00,621.80 319.00,617.30 L319.00,586.60 C319.00,582.10 323.50,577.65 328.00,577.70 Z" fill="#bb8b2a"/>
<path d="M327.49,578.22 L351.69,578.50 C356.69,578.55 361.69,583.61 361.69,588.61 L361.69,618.11 C361.69,622.61 357.19,627.08 352.69,627.05 L327.49,626.87 C322.99,626.84 318.49,622.31 318.49,617.81 L318.49,587.11 C318.49,582.61 322.99,578.16 327.49,578.22 Z" fill="#bb8b2a"/>
<path d="M326.97,578.73 L351.18,579.01 C356.18,579.07 361.18,584.12 361.18,589.12 L361.18,618.62 C361.18,623.12 356.68,627.59 352.18,627.56 L326.97,627.39 C322.47,627.36 317.98,622.83 317.98,618.33 L317.98,587.62 C317.98,583.12 322.47,578.68 326.97,578.73 Z" fill="#bb8b2a"/>
<path d="M326.46,579.24 L350.66,579.52 C355.66,579.58 360.66,584.64 360.66,589.64 L360.66,619.14 C360.66,623.64 356.16,628.11 351.66,628.08 L326.46,627.90 C321.96,627.87 317.46,623.34 317.46,618.84 L317.46,588.14 C317.46,583.64 321.96,579.19 326.46,579.24 Z" fill="#bb8b2a"/>
<path d="M325.95,579.75 L350.15,580.03 C355.15,580.09 360.15,585.15 360.15,590.15 L360.15,619.65 C360.15,624.15 355.65,628.62 351.15,628.59 L325.95,628.41 C321.45,628.38 316.95,623.85 316.95,619.35 L316.95,588.65 C316.95,584.15 321.45,579.70 325.95,579.75 Z" fill="#bb8b2a"/>
<path d="M325.44,580.27 L349.64,580.55 C354.64,580.60 359.64,585.66 359.64,590.66 L359.64,620.16 C359.64,624.66 355.14,629.13 350.64,629.10 L325.44,628.92 C320.94,628.89 316.44,624.36 316.44,619.86 L316.44,589.16 C316.44,584.66 320.94,580.21 325.44,580.27 Z" fill="#bb8b2a"/>
<path d="M324.92,580.78 L349.13,581.06 C354.13,581.12 359.12,586.17 359.12,591.17 L359.12,620.67 C359.12,625.17 354.63,629.64 350.13,629.61 L324.92,629.44 C320.42,629.41 315.93,624.88 315.93,620.38 L315.93,589.67 C315.93,585.17 320.42,580.73 324.92,580.78 Z" fill="#bb8b2a"/>
<path d="M324.41,581.29 L348.61,581.57 C353.61,581.63 358.61,586.69 358.61,591.69 L358.61,621.19 C358.61,625.69 354.11,630.16 349.61,630.13 L324.41,629.95 C319.91,629.92 315.41,625.39 315.41,620.89 L315.41,590.19 C315.41,585.69 319.91,581.24 324.41,581.29 Z" fill="#bb8b2a"/>
<path d="M323.90,581.80 L348.10,582.08 C353.10,582.14 358.10,587.20 358.10,592.20 L358.10,621.70 C358.10,626.20 353.60,630.67 349.10,630.64 L323.90,630.46 C319.40,630.43 314.90,625.90 314.90,621.40 L314.90,590.70 C314.90,586.20 319.40,581.75 323.90,581.80 Z" fill="#bb8b2a"/>
<path d="M323.39,582.32 L347.59,582.60 C352.59,582.65 357.59,587.71 357.59,592.71 L357.59,622.21 C357.59,626.71 353.09,631.18 348.59,631.15 L323.39,630.97 C318.89,630.94 314.39,626.41 314.39,621.91 L314.39,591.21 C314.39,586.71 318.89,582.26 323.39,582.32 Z" fill="#bb8b2a"/>
<path d="M322.87,582.83 L347.08,583.11 C352.08,583.17 357.07,588.22 357.07,593.22 L357.07,622.72 C357.07,627.22 352.58,631.69 348.08,631.66 L322.87,631.49 C318.37,631.46 313.88,626.92 313.88,622.42 L313.88,591.72 C313.88,587.22 318.37,582.78 322.87,582.83 Z" fill="#bb8b2a"/>
<path d="M322.36,583.34 L346.56,583.62 C351.56,583.68 356.56,588.74 356.56,593.74 L356.56,623.24 C356.56,627.74 352.06,632.21 347.56,632.18 L322.36,632.00 C317.86,631.97 313.36,627.44 313.36,622.94 L313.36,592.24 C313.36,587.74 317.86,583.29 322.36,583.34 Z" fill="#bb8b2a"/>
<path d="M321.85,583.85 L346.05,584.13 C351.05,584.19 356.05,589.25 356.05,594.25 L356.05,623.75 C356.05,628.25 351.55,632.72 347.05,632.69 L321.85,632.51 C317.35,632.48 312.85,627.95 312.85,623.45 L312.85,592.75 C312.85,588.25 317.35,583.80 321.85,583.85 Z" fill="#bb8b2a"/>
<path d="M321.34,584.37 L345.54,584.65 C350.54,584.70 355.54,589.76 355.54,594.76 L355.54,624.26 C355.54,628.76 351.04,633.23 346.54,633.20 L321.34,633.02 C316.84,632.99 312.34,628.46 312.34,623.96 L312.34,593.26 C312.34,588.76 316.84,584.31 321.34,584.37 Z" fill="#bb8b2a"/>
<path d="M320.82,584.88 L345.03,585.16 C350.03,585.22 355.02,590.27 355.02,595.27 L355.02,624.77 C355.02,629.27 350.53,633.74 346.03,633.71 L320.82,633.54 C316.32,633.51 311.82,628.98 311.82,624.48 L311.82,593.77 C311.82,589.27 316.32,584.83 320.82,584.88 Z" fill="#bb8b2a"/>
<path d="M320.31,585.39 L344.51,585.67 C349.51,585.73 354.51,590.79 354.51,595.79 L354.51,625.29 C354.51,629.79 350.01,634.26 345.51,634.23 L320.31,634.05 C315.81,634.02 311.31,629.49 311.31,624.99 L311.31,594.29 C311.31,589.79 315.81,585.34 320.31,585.39 Z" fill="#bb8b2a"/>
<path d="M319.80,585.90 L344.00,586.18 C349.00,586.24 354.00,591.30 354.00,596.30 L354.00,625.80 C354.00,630.30 349.50,634.77 345.00,634.74 L319.80,634.56 C315.30,634.53 310.80,630.00 310.80,625.50 L310.80,594.80 C310.80,590.30 315.30,585.85 319.80,585.90 Z" fill="#eca631"/>
<path d="M321.80,587.10 L344.00,587.60 C348.35,587.60 352.70,591.95 352.70,596.30 L352.70,623.80" fill="none" stroke="#f7c35a" stroke-width="1.8" opacity="0.5" stroke-linecap="round"/>
<text transform="translate(334.1 619.7) scale(1.0 1)" x="0" y="0" font-family="&quot;Liberation Serif&quot;, serif" font-size="32.5" text-anchor="middle" font-weight="normal" fill="#1a1208" stroke="#1a1208" stroke-width="0.7">&#952;</text>
<path d="M453.80,531.99 L516.51,533.80 C523.50,534.00 530.52,541.20 530.54,548.20 L530.76,617.00 C530.78,623.00 524.80,628.81 518.81,628.61 L456.09,626.59 C450.10,626.39 444.08,620.20 444.06,614.20 L443.83,541.70 C443.82,536.70 448.80,531.84 453.80,531.99 Z" fill="#4f7daa"/>
<path d="M453.28,532.59 L515.99,534.40 C522.98,534.60 530.00,541.80 530.03,548.80 L530.24,617.60 C530.26,623.60 524.28,629.41 518.29,629.21 L455.57,627.19 C449.58,626.99 443.56,620.80 443.54,614.80 L443.31,542.30 C443.30,537.30 448.28,532.44 453.28,532.59 Z" fill="#4f7daa"/>
<path d="M452.76,533.19 L515.47,535.00 C522.47,535.20 529.48,542.40 529.51,549.40 L529.72,618.20 C529.74,624.20 523.77,630.01 517.77,629.81 L455.06,627.79 C449.06,627.59 443.04,621.40 443.02,615.40 L442.79,542.90 C442.78,537.90 447.76,533.04 452.76,533.19 Z" fill="#4f7daa"/>
<path d="M452.24,533.79 L514.95,535.60 C521.95,535.80 528.97,543.00 528.99,550.00 L529.21,618.80 C529.22,624.80 523.25,630.61 517.25,630.41 L454.54,628.39 C448.54,628.19 442.52,622.00 442.51,616.00 L442.28,543.50 C442.26,538.50 447.24,533.64 452.24,533.79 Z" fill="#4f7daa"/>
<path d="M451.72,534.39 L514.43,536.20 C521.43,536.40 528.45,543.60 528.47,550.60 L528.69,619.40 C528.71,625.40 522.73,631.21 516.73,631.01 L454.02,628.99 C448.02,628.79 442.01,622.60 441.99,616.60 L441.76,544.10 C441.74,539.10 446.72,534.24 451.72,534.39 Z" fill="#4f7daa"/>
<path d="M451.20,534.99 L513.91,536.80 C520.91,537.00 527.93,544.20 527.95,551.20 L528.17,620.00 C528.19,626.00 522.21,631.81 516.21,631.61 L453.50,629.59 C447.50,629.39 441.49,623.20 441.47,617.20 L441.24,544.70 C441.22,539.70 446.20,534.84 451.20,534.99 Z" fill="#4f7daa"/>
<path d="M450.68,535.59 L513.39,537.40 C520.39,537.60 527.41,544.80 527.43,551.80 L527.65,620.60 C527.67,626.60 521.69,632.41 515.69,632.21 L452.98,630.19 C446.98,629.99 440.97,623.80 440.95,617.80 L440.72,545.30 C440.70,540.30 445.69,535.44 450.68,535.59 Z" fill="#4f7daa"/>
<path d="M450.16,536.19 L512.87,538.00 C519.87,538.20 526.89,545.40 526.91,552.40 L527.13,621.20 C527.15,627.20 521.17,633.01 515.18,632.81 L452.46,630.79 C446.47,630.59 440.45,624.40 440.43,618.40 L440.20,545.90 C440.18,540.90 445.17,536.04 450.16,536.19 Z" fill="#4f7daa"/>
<path d="M449.65,536.79 L512.36,538.60 C519.35,538.80 526.37,546.00 526.39,553.00 L526.61,621.80 C526.63,627.80 520.65,633.61 514.66,633.41 L451.94,631.39 C445.95,631.19 439.93,625.00 439.91,619.00 L439.68,546.50 C439.67,541.50 444.65,536.64 449.65,536.79 Z" fill="#4f7daa"/>
<path d="M449.13,537.39 L511.84,539.20 C518.83,539.40 525.85,546.60 525.88,553.60 L526.09,622.40 C526.11,628.40 520.13,634.21 514.14,634.01 L451.42,631.99 C445.43,631.79 439.41,625.60 439.39,619.60 L439.16,547.10 C439.15,542.10 444.13,537.24 449.13,537.39 Z" fill="#4f7daa"/>
<path d="M448.61,537.99 L511.32,539.80 C518.32,540.00 525.33,547.20 525.36,554.20 L525.57,623.00 C525.59,629.00 519.62,634.81 513.62,634.61 L450.91,632.59 C444.91,632.39 438.89,626.20 438.87,620.20 L438.64,547.70 C438.63,542.70 443.61,537.84 448.61,537.99 Z" fill="#4f7daa"/>
<path d="M448.09,538.59 L510.80,540.40 C517.80,540.60 524.82,547.80 524.84,554.80 L525.06,623.60 C525.07,629.60 519.10,635.41 513.10,635.21 L450.39,633.19 C444.39,632.99 438.37,626.80 438.36,620.80 L438.13,548.30 C438.11,543.30 443.09,538.44 448.09,538.59 Z" fill="#4f7daa"/>
<path d="M447.57,539.19 L510.28,541.00 C517.28,541.20 524.30,548.40 524.32,555.40 L524.54,624.20 C524.56,630.20 518.58,636.01 512.58,635.81 L449.87,633.79 C443.87,633.59 437.86,627.40 437.84,621.40 L437.61,548.90 C437.59,543.90 442.57,539.04 447.57,539.19 Z" fill="#4f7daa"/>
<path d="M447.05,539.79 L509.76,541.60 C516.76,541.80 523.78,549.00 523.80,556.00 L524.02,624.80 C524.04,630.80 518.06,636.61 512.06,636.41 L449.35,634.39 C443.35,634.19 437.34,628.00 437.32,622.00 L437.09,549.50 C437.07,544.50 442.05,539.64 447.05,539.79 Z" fill="#4f7daa"/>
<path d="M446.53,540.39 L509.24,542.20 C516.24,542.40 523.26,549.60 523.28,556.60 L523.50,625.40 C523.52,631.40 517.54,637.21 511.54,637.01 L448.83,634.99 C442.83,634.79 436.82,628.60 436.80,622.60 L436.57,550.10 C436.55,545.10 441.54,540.24 446.53,540.39 Z" fill="#4f7daa"/>
<path d="M446.01,540.99 L508.72,542.80 C515.72,543.00 522.74,550.20 522.76,557.20 L522.98,626.00 C523.00,632.00 517.02,637.81 511.03,637.61 L448.31,635.59 C442.32,635.39 436.30,629.20 436.28,623.20 L436.05,550.70 C436.03,545.70 441.02,540.84 446.01,540.99 Z" fill="#4f7daa"/>
<polygon points="518.0,552.0 532.0,552.2 532.0,559.4 518.0,559.2" fill="#58595b" opacity="0.55"/>
<polygon points="518.0,604.8 532.0,605.0 532.0,612.2 518.0,612.0" fill="#58595b" opacity="0.55"/>
<path d="M445.50,541.59 L508.21,543.40 C515.20,543.60 522.22,550.80 522.24,557.80 L522.46,626.60 C522.48,632.60 516.50,638.41 510.51,638.21 L447.79,636.19 C441.80,635.99 435.78,629.80 435.76,623.80 L435.53,551.30 C435.52,546.30 440.50,541.44 445.50,541.59 Z" fill="#71a2d1"/>
<path d="M447.50,542.60 L508.20,545.10 C514.55,545.10 520.90,551.45 520.90,557.80 L521.20,624.60" fill="none" stroke="#93c0e8" stroke-width="1.8" opacity="0.5" stroke-linecap="round"/>
<polygon points="436,550.05 524,601.25 524,608.75 436,557.55" fill="#98939b" opacity="0.55"/>
<polygon points="436,604.75 524,552.25 524,557.75 436,610.25" fill="#98939b" opacity="0.45"/>
<g>
<ellipse cx="614.80" cy="461.45" rx="9.00" ry="21.95" fill="#2b2d8a"/>
<ellipse cx="615.74" cy="461.45" rx="8.94" ry="21.61" fill="#2b2d8a"/>
<ellipse cx="616.67" cy="461.45" rx="8.88" ry="21.31" fill="#2b2d8a"/>
<ellipse cx="617.61" cy="461.45" rx="8.81" ry="21.12" fill="#2b2d8a"/>
<ellipse cx="618.55" cy="461.45" rx="8.75" ry="21.05" fill="#2b2d8a"/>
<ellipse cx="619.49" cy="461.45" rx="8.69" ry="21.12" fill="#2b2d8a"/>
<ellipse cx="620.42" cy="461.45" rx="8.62" ry="21.31" fill="#2b2d8a"/>
<ellipse cx="621.36" cy="461.45" rx="8.56" ry="21.61" fill="#2b2d8a"/>
<ellipse cx="622.30" cy="461.45" rx="8.50" ry="21.95" fill="#2b2d8a"/>
<path d="M616.3,441.4 C608.8,446.2 608.8,476.7 616.3,481.5" fill="none" stroke="#4954b0" stroke-width="1.1" opacity="0.9"/>
<path d="M620.3,441.0 C613.3,446.2 613.3,476.7 620.3,481.9" fill="none" stroke="#3b45a4" stroke-width="1.0" opacity="0.9"/>
<ellipse cx="621.80" cy="461.45" rx="6.4" ry="17.95" fill="#20246f"/>
<ellipse cx="621.70" cy="461.55" rx="4.9" ry="16.05" fill="#dcd640" stroke="#e9e79a" stroke-width="0.9"/>
<ellipse cx="622.00" cy="461.55" rx="2.6" ry="12.25" fill="#e2dc48" opacity="0.6"/>
<path d="M630.40,454.70 C631.60,451.70 633.40,450.40 634.60,451.20 C636.80,453.20 638.00,471.70 642.00,471.70 C646.00,471.70 647.30,450.00 649.80,450.00 C652.40,450.00 653.70,453.70 653.70,460.80" fill="none" stroke="#43465f" stroke-width="1.1"/>
</g>
<g>
<ellipse cx="615.70" cy="556.35" rx="9.00" ry="21.95" fill="#2b2d8a"/>
<ellipse cx="616.64" cy="556.35" rx="8.94" ry="21.61" fill="#2b2d8a"/>
<ellipse cx="617.58" cy="556.35" rx="8.88" ry="21.31" fill="#2b2d8a"/>
<ellipse cx="618.51" cy="556.35" rx="8.81" ry="21.12" fill="#2b2d8a"/>
<ellipse cx="619.45" cy="556.35" rx="8.75" ry="21.05" fill="#2b2d8a"/>
<ellipse cx="620.39" cy="556.35" rx="8.69" ry="21.12" fill="#2b2d8a"/>
<ellipse cx="621.33" cy="556.35" rx="8.62" ry="21.31" fill="#2b2d8a"/>
<ellipse cx="622.26" cy="556.35" rx="8.56" ry="21.61" fill="#2b2d8a"/>
<ellipse cx="623.20" cy="556.35" rx="8.50" ry="21.95" fill="#2b2d8a"/>
<path d="M617.2,536.3 C609.7,541.1 609.7,571.6 617.2,576.4" fill="none" stroke="#4954b0" stroke-width="1.1" opacity="0.9"/>
<path d="M621.2,535.9 C614.2,541.1 614.2,571.6 621.2,576.8" fill="none" stroke="#3b45a4" stroke-width="1.0" opacity="0.9"/>
<ellipse cx="622.70" cy="556.35" rx="6.4" ry="17.95" fill="#20246f"/>
<ellipse cx="622.60" cy="556.45" rx="4.9" ry="16.05" fill="#dcd640" stroke="#e9e79a" stroke-width="0.9"/>
<ellipse cx="622.90" cy="556.45" rx="2.6" ry="12.25" fill="#e2dc48" opacity="0.6"/>
<path d="M631.30,549.60 C632.50,546.60 634.30,545.30 635.50,546.10 C637.70,548.10 638.90,566.60 642.90,566.60 C646.90,566.60 648.20,544.90 650.70,544.90 C653.30,544.90 654.60,548.60 654.60,555.70" fill="none" stroke="#43465f" stroke-width="1.1"/>
</g>
<g>
<ellipse cx="616.60" cy="610.15" rx="9.00" ry="21.95" fill="#2b2d8a"/>
<ellipse cx="617.54" cy="610.15" rx="8.94" ry="21.61" fill="#2b2d8a"/>
<ellipse cx="618.48" cy="610.15" rx="8.88" ry="21.31" fill="#2b2d8a"/>
<ellipse cx="619.41" cy="610.15" rx="8.81" ry="21.12" fill="#2b2d8a"/>
<ellipse cx="620.35" cy="610.15" rx="8.75" ry="21.05" fill="#2b2d8a"/>
<ellipse cx="621.29" cy="610.15" rx="8.69" ry="21.12" fill="#2b2d8a"/>
<ellipse cx="622.23" cy="610.15" rx="8.62" ry="21.31" fill="#2b2d8a"/>
<ellipse cx="623.16" cy="610.15" rx="8.56" ry="21.61" fill="#2b2d8a"/>
<ellipse cx="624.10" cy="610.15" rx="8.50" ry="21.95" fill="#2b2d8a"/>
<path d="M618.1,590.1 C610.6,594.9 610.6,625.4 618.1,630.2" fill="none" stroke="#4954b0" stroke-width="1.1" opacity="0.9"/>
<path d="M622.1,589.7 C615.1,594.9 615.1,625.4 622.1,630.6" fill="none" stroke="#3b45a4" stroke-width="1.0" opacity="0.9"/>
<ellipse cx="623.60" cy="610.15" rx="6.4" ry="17.95" fill="#20246f"/>
<ellipse cx="623.50" cy="610.25" rx="4.9" ry="16.05" fill="#dcd640" stroke="#e9e79a" stroke-width="0.9"/>
<ellipse cx="623.80" cy="610.25" rx="2.6" ry="12.25" fill="#e2dc48" opacity="0.6"/>
<path d="M632.20,603.40 C633.40,600.40 635.20,599.10 636.40,599.90 C638.60,601.90 639.80,620.40 643.80,620.40 C647.80,620.40 649.10,598.70 651.60,598.70 C654.20,598.70 655.50,602.40 655.50,609.50" fill="none" stroke="#43465f" stroke-width="1.1"/>
</g>
<text transform="translate(655.5 537.6) scale(1.06 1)" x="0" y="0" font-family="&quot;Liberation Serif&quot;, serif" font-size="20" text-anchor="start" font-weight="bold" fill="#111" stroke="#111" stroke-width="0.5">D</text>
<text transform="translate(670.5 542.9) scale(1.04 1)" x="0" y="0" font-family="&quot;Liberation Serif&quot;, serif" font-size="17" text-anchor="start" font-weight="bold" fill="#111" stroke="#111" stroke-width="0.4">0</text>
<text transform="translate(659.0 600.2) scale(1.06 1)" x="0" y="0" font-family="&quot;Liberation Serif&quot;, serif" font-size="20" text-anchor="start" font-weight="bold" fill="#111" stroke="#111" stroke-width="0.5">D</text>
<text transform="translate(673.2 603.7) scale(1.04 1)" x="0" y="0" font-family="&quot;Liberation Serif&quot;, serif" font-size="17" text-anchor="start" font-weight="bold" fill="#111" stroke="#111" stroke-width="0.4">1</text>
</svg>
</body></html>
